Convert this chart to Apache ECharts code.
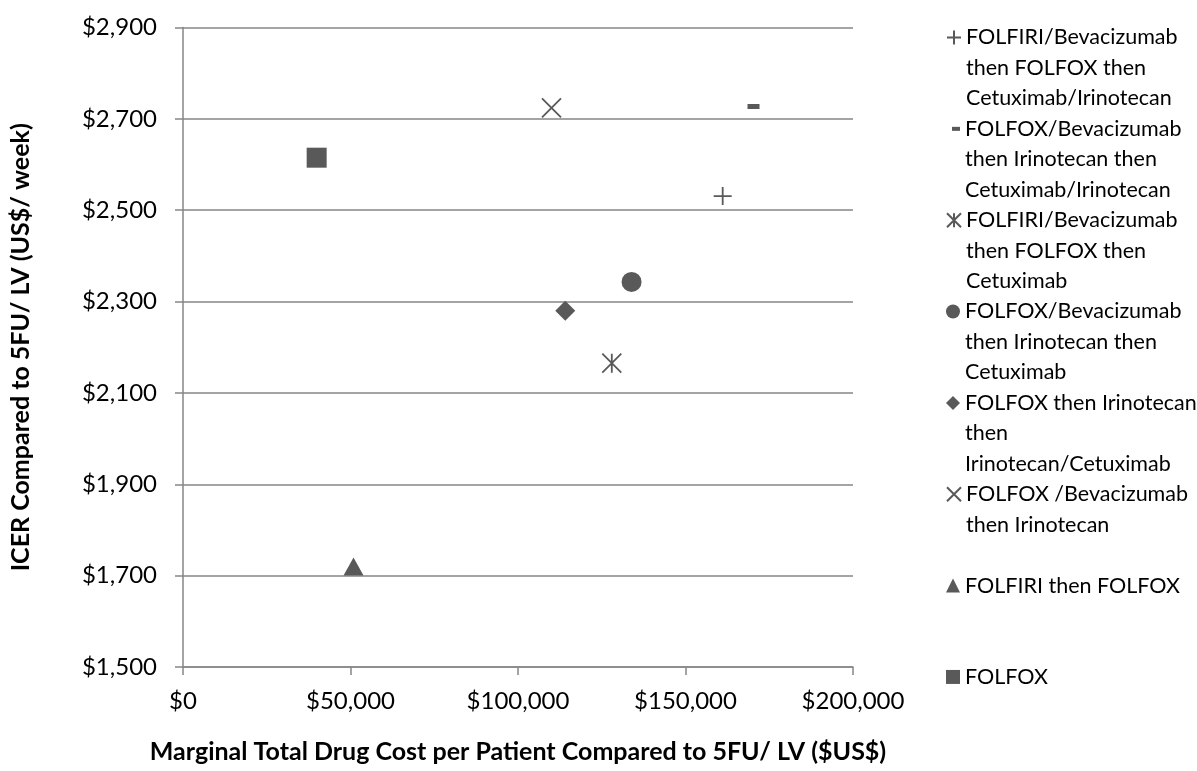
<!DOCTYPE html>
<html>
<head>
<meta charset="utf-8">
<title>ICER vs Marginal Drug Cost</title>
<script src="https://cdn.jsdelivr.net/npm/echarts@6/dist/echarts.min.js"></script>
<style>
  html, body { margin: 0; padding: 0; background: #ffffff; }
  #chart { width: 1197px; height: 771px; }
</style>
</head>
<body>
<div id="chart"></div>
<script>
// Regimen names (legend order), with line breaks as wrapped in the legend
const regimens = [
  'FOLFIRI/Bevacizumab\nthen FOLFOX then\nCetuximab/Irinotecan',
  'FOLFOX/Bevacizumab\nthen Irinotecan then\nCetuximab/Irinotecan',
  'FOLFIRI/Bevacizumab\nthen FOLFOX then\nCetuximab',
  'FOLFOX/Bevacizumab\nthen Irinotecan then\nCetuximab',
  'FOLFOX then Irinotecan\nthen\nIrinotecan/Cetuximab',
  'FOLFOX /Bevacizumab\nthen Irinotecan',
  'FOLFIRI then FOLFOX',
  'FOLFOX'
];
// Marginal total drug cost per patient (US$)
const drugCost = [161100, 170300, 128000, 133900, 114100, 110000, 50900, 39900];
// ICER compared to 5FU/LV (US$ per week)
const icer = [2531, 2727, 2165, 2343, 2280, 2724, 1720, 2615];
// Legend row index of each entry (rows of the legend column)
const legendRow = [0, 3, 6, 9, 12, 15, 18, 21];

const yTicks = { min: 1500, max: 2900, interval: 200 };
const xTicks = { min: 0, max: 200000, interval: 50000 };

const FONT = 'Lato';
const MARK = '#595959';
const GRID = '#868686';
const LINE_H = 30.45;

// Marker shapes for each regimen
const strokeStyle = { color: 'rgba(0,0,0,0)', borderColor: MARK, borderWidth: 1.8, opacity: 1 };
const fillStyle = { color: MARK, opacity: 1 };
const markers = [
  { symbol: 'path://M0,9 L18,9 M9,0 L9,18', size: 18, style: strokeStyle },
  { symbol: 'rect', size: [12, 5], style: fillStyle, legendW: 8, legendH: 4 },
  { symbol: 'path://M0,0 L19,19 M19,0 L0,19 M9.5,0 L9.5,19', size: 19, style: strokeStyle },
  { symbol: 'circle', size: 20, style: fillStyle },
  { symbol: 'diamond', size: 20, style: fillStyle },
  { symbol: 'path://M0,0 L19,19 M19,0 L0,19', size: 19, style: strokeStyle },
  { symbol: 'triangle', size: [20, 18], style: fillStyle },
  { symbol: 'rect', size: 20, style: fillStyle }
];

const fmtMoney = v => '$' + Number(v).toLocaleString('en-US');

const series = regimens.map((name, i) => ({
  name: name,
  type: 'scatter',
  data: [[drugCost[i], icer[i]]],
  symbol: markers[i].symbol,
  symbolSize: markers[i].size,
  itemStyle: markers[i].style,
  emphasis: { disabled: true }
}));

// One legend block per entry so each sits on its own row; leading blank
// lines keep the marker level with the first line of a wrapped name.
const legends = regimens.map((name, i) => {
  const lines = name.split('\n').length;
  const w = markers[i].legendW || 14;
  const h = markers[i].legendH || 14;
  const rowY = 37.5 + legendRow[i] * LINE_H;
  const boxH = (2 * lines - 1) * LINE_H;
  return {
    data: [name],
    orient: 'vertical',
    left: 965 - 5 - w,
    top: rowY - boxH / 2,
    padding: 0,
    itemWidth: w,
    itemHeight: h,
    selectedMode: false,
    formatter: n => '\n'.repeat(lines - 1) + n,
    textStyle: {
      fontFamily: FONT,
      fontSize: 21.5,
      color: '#000000',
      lineHeight: LINE_H
    }
  };
});

const chart = echarts.init(document.getElementById('chart'), null, { renderer: 'canvas' });
chart.setOption({
  animation: false,
  backgroundColor: '#ffffff',
  textStyle: { fontFamily: FONT },
  grid: { left: 181, right: 344, top: 27.5, bottom: 104, containLabel: false },
  legend: legends,
  xAxis: {
    type: 'value',
    min: xTicks.min,
    max: xTicks.max,
    interval: xTicks.interval,
    name: 'Marginal Total Drug Cost per Patient Compared to 5FU/ LV ($US$)',
    nameLocation: 'middle',
    nameGap: 72,
    nameTextStyle: { fontFamily: FONT, fontSize: 25, fontWeight: 'bold', color: '#000000' },
    axisLine: { show: true, lineStyle: { color: GRID, width: 1.5 } },
    axisTick: { show: true, length: 8, lineStyle: { color: GRID, width: 1.5 } },
    axisLabel: { formatter: fmtMoney, fontSize: 24, color: '#000000', margin: 22 },
    splitLine: { show: false }
  },
  yAxis: {
    type: 'value',
    min: yTicks.min,
    max: yTicks.max,
    interval: yTicks.interval,
    name: 'ICER Compared to 5FU/ LV (US$/ week)',
    nameLocation: 'middle',
    nameGap: 150,
    nameTextStyle: { fontFamily: FONT, fontSize: 25, fontWeight: 'bold', color: '#000000' },
    axisLine: { show: true, lineStyle: { color: GRID, width: 1.5 } },
    axisTick: { show: true, length: 8, lineStyle: { color: GRID, width: 1.5 } },
    axisLabel: { formatter: fmtMoney, fontSize: 24, color: '#000000', margin: 26 },
    splitLine: { show: true, lineStyle: { color: GRID, width: 1.5 } }
  },
  series: series
});
</script>
</body>
</html>
